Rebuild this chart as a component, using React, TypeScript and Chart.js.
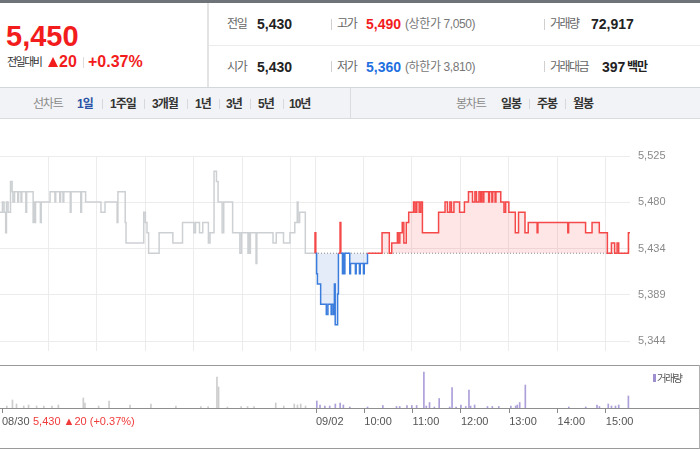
import React, { useEffect, useRef } from "react";
import { Chart, registerables } from "chart.js";

Chart.register(...registerables);

// ---------- data ----------
const SESSION = 390; // minutes 09:00-15:30
const BASE_PRICE = 5430; // previous close

// 08/30 session: [minute from 09:00, price]
const prevSession: [number, number][] = [
  [0, 5470], [3, 5480], [5, 5470], [7, 5450], [8, 5480], [10, 5470], [13, 5500], [15, 5490],
  [16, 5480], [18, 5490], [22, 5480], [23, 5490], [26, 5480], [27, 5490], [32, 5470], [33, 5490],
  [41, 5460], [42, 5480], [43, 5460], [44, 5480], [50, 5460], [51, 5480], [62, 5490], [68, 5480],
  [69, 5490], [74, 5480], [75, 5490], [78, 5480], [79, 5490], [87, 5470], [88, 5490], [100, 5470],
  [101, 5490], [106, 5480], [125, 5470], [130, 5480], [145, 5460], [146, 5490], [155, 5460], [156, 5440],
  [178, 5470], [180, 5460], [182, 5450], [184, 5430], [197, 5450], [214, 5440], [226, 5460], [240, 5450],
  [242, 5460], [247, 5450], [251, 5460], [258, 5440], [260, 5450], [265, 5510], [268, 5500], [270, 5480],
  [275, 5450], [277, 5480], [288, 5450], [297, 5430], [299, 5450], [307, 5430], [308, 5450], [309, 5430],
  [310, 5450], [317, 5420], [318, 5450], [338, 5440], [342, 5450], [351, 5440], [359, 5450], [365, 5460],
  [368, 5480], [369, 5460], [371, 5470], [378, 5430], [390, 5430],
];

// 09/02 session: [minute from 09:00, price]
const todaySession: [number, number][] = [
  [0, 5430], [0, 5450], [1, 5430], [2, 5410], [3, 5400], [7, 5380], [14, 5370], [16, 5380],
  [20, 5370], [21, 5380], [23, 5370], [24, 5400], [25, 5360], [28, 5390], [29, 5430], [31, 5460],
  [32, 5430], [34, 5410], [35, 5430], [36, 5410], [37, 5430], [43, 5410], [44, 5420], [50, 5410],
  [51, 5420], [55, 5410], [56, 5420], [60, 5410], [61, 5420], [65, 5430], [83, 5450], [92, 5430],
  [95, 5440], [102, 5450], [103, 5440], [105, 5450], [108, 5460], [110, 5440], [113, 5460], [116, 5470],
  [122, 5480], [124, 5470], [126, 5480], [129, 5470], [131, 5480], [133, 5450], [153, 5470], [161, 5480],
  [164, 5470], [167, 5480], [169, 5470], [172, 5480], [179, 5470], [185, 5480], [190, 5490], [195, 5480],
  [198, 5490], [200, 5480], [203, 5490], [205, 5480], [206, 5490], [208, 5480], [209, 5490], [215, 5480],
  [216, 5490], [219, 5480], [220, 5490], [223, 5480], [224, 5490], [230, 5480], [234, 5470], [236, 5480],
  [240, 5470], [248, 5450], [252, 5470], [260, 5450], [264, 5460], [275, 5450], [276, 5460], [313, 5450],
  [314, 5460], [335, 5450], [343, 5460], [352, 5450], [362, 5430], [367, 5440], [371, 5430], [374, 5440],
  [376, 5430], [388, 5450], [390, 5450],
];

// volumes (shares): [minute from 09:00, volume]
const prevVolumes: [number, number][] = [
  [6, 400], [13, 1600], [18, 800], [27, 400], [33, 600], [43, 400], [52, 400], [62, 400], [70, 600],
  [101, 2000], [103, 1000], [120, 400], [133, 1400], [159, 600], [185, 800], [216, 400], [247, 300],
  [256, 300], [267, 6200], [269, 4200], [280, 200], [297, 300], [305, 300], [313, 300], [340, 1000],
  [350, 400], [363, 800], [367, 600], [371, 800], [377, 400],
];
const todayVolumes: [number, number][] = [
  [1, 1400], [5, 600], [11, 400], [17, 400], [24, 800], [30, 1000], [34, 600], [42, 200], [64, 200],
  [83, 500], [100, 300], [104, 300], [113, 500], [119, 500], [125, 500], [134, 7200], [137, 400],
  [141, 1100], [147, 200], [153, 1900], [166, 200], [169, 4100], [174, 200], [180, 600], [186, 300],
  [190, 3600], [192, 400], [197, 600], [213, 300], [219, 300], [227, 300], [242, 400], [248, 400],
  [250, 600], [253, 1100], [260, 4600], [314, 200], [335, 200], [349, 600], [352, 300], [363, 800],
  [367, 400], [372, 400], [376, 600], [388, 2400],
];

const priceTickValues = [5344, 5389.25, 5434.5, 5479.75, 5525];
const priceTickLabels = ["5,344", "5,389", "5,434", "5,480", "5,525"];
const gridMinutes = [60, 120, 180, 240, 300, 360, 390, 450, 510, 570, 630, 690, 750];
const timeTickValues = [0, 390, 450, 510, 570, 630, 690, 750];
const timeTickLabels = ["08/30", "09/02", "10:00", "11:00", "12:00", "13:00", "14:00", "15:00"];

// ---------- style ----------
const FONT = '"Liberation Sans", Arial, "Noto Sans CJK KR", sans-serif';
const RED = "#f21c1c";
const LINE_RED = "#f54848";
const BLUE = "#1f6fe0";
const LINE_BLUE = "#3a7ddc";
const GRID = "#ececec";

type TP = {
  x: number;
  cy: number;
  size: number;
  color?: string;
  bold?: boolean;
  ls?: number;
  children: React.ReactNode;
};
function T({ x, cy, size, color = "#333", bold = false, ls = 0, children }: TP) {
  return (
    <span
      style={{
        position: "absolute",
        left: x,
        top: cy - 15,
        height: 30,
        lineHeight: "30px",
        fontSize: size,
        fontWeight: bold ? 700 : 400,
        color,
        letterSpacing: ls,
        fontFamily: FONT,
        whiteSpace: "nowrap",
      }}
    >
      {children}
    </span>
  );
}
function Box({ x, y, w, h, bg }: { x: number; y: number; w: number; h: number; bg: string }) {
  return <div style={{ position: "absolute", left: x, top: y, width: w, height: h, background: bg }} />;
}

export default function App() {
  const priceRef = useRef<HTMLCanvasElement>(null);
  const volRef = useRef<HTMLCanvasElement>(null);

  useEffect(() => {
    document.body.style.margin = "0";
    const prevPts = prevSession.map(([m, p]) => ({ x: m, y: p }));
    const todayPts = todaySession.map(([m, p]) => ({ x: SESSION + m, y: p }));

    const pc = new Chart(priceRef.current as HTMLCanvasElement, {
      type: "line",
      data: {
        datasets: [
          {
            data: todayPts,
            stepped: true,
            borderWidth: 1.5,
            pointRadius: 0,
            borderColor: LINE_RED,
            segment: {
              borderColor: (ctx: any) =>
                Math.min(ctx.p0.parsed.y, ctx.p1.parsed.y) < BASE_PRICE ? LINE_BLUE : LINE_RED,
            },
            fill: {
              target: { value: BASE_PRICE },
              above: "rgba(245,80,80,0.14)",
              below: "rgba(70,120,215,0.14)",
            },
          } as any,
          {
            data: prevPts,
            stepped: true,
            borderWidth: 1.5,
            pointRadius: 0,
            borderColor: "#cdd0d3",
            fill: false,
          },
          {
            data: [
              { x: SESSION, y: BASE_PRICE },
              { x: 2 * SESSION, y: BASE_PRICE },
            ],
            borderWidth: 1,
            borderDash: [1, 2],
            borderColor: "#8a8a8a",
            pointRadius: 0,
            fill: false,
          },
        ],
      },
      options: {
        animation: false,
        responsive: false,
        devicePixelRatio: 1,
        events: [],
        layout: { padding: { top: 36, left: 0, right: 0, bottom: 0 } },
        plugins: { legend: { display: false }, tooltip: { enabled: false } },
        scales: {
          x: {
            type: "linear",
            min: 0,
            max: 2 * SESSION,
            ticks: { display: false },
            grid: { color: GRID, drawTicks: false },
            border: { display: false },
            afterBuildTicks: (s: any) => {
              s.ticks = gridMinutes.map((v) => ({ value: v }));
            },
          },
          y: {
            position: "right",
            min: 5334,
            max: 5525,
            grid: { color: GRID, drawTicks: false },
            border: { display: false },
            afterBuildTicks: (s: any) => {
              s.ticks = priceTickValues.map((v) => ({ value: v }));
            },
            afterFit: (s: any) => {
              s.width = 70;
            },
            ticks: {
              padding: 8,
              color: "#8a8a8a",
              font: { size: 11, family: FONT },
              callback: (_v: any, i: number) => priceTickLabels[i],
            },
          },
        },
      } as any,
    });

    const vc = new Chart(volRef.current as HTMLCanvasElement, {
      type: "bar",
      data: {
        datasets: [
          {
            data: prevVolumes.map(([m, v]) => ({ x: m, y: v })),
            backgroundColor: "#cdcdcd",
            barThickness: 1,
            grouped: false,
          },
          {
            data: todayVolumes.map(([m, v]) => ({ x: SESSION + m, y: v })),
            backgroundColor: "#ad9fd9",
            barThickness: 1,
            grouped: false,
          },
        ],
      } as any,
      options: {
        animation: false,
        responsive: false,
        devicePixelRatio: 1,
        events: [],
        layout: { padding: { top: 0, left: 0, right: 70, bottom: 0 } },
        plugins: { legend: { display: false }, tooltip: { enabled: false } },
        scales: {
          x: {
            type: "linear",
            min: 0,
            max: 2 * SESSION,
            offset: false,
            grid: { drawOnChartArea: false, drawTicks: true, tickLength: 5, color: "#888", offset: false },
            border: { display: false },
            afterBuildTicks: (s: any) => {
              s.ticks = timeTickValues.map((v) => ({ value: v }));
            },
            afterFit: (s: any) => {
              s.height = 41;
            },
            ticks: {
              align: "start",
              padding: 2,
              maxRotation: 0,
              autoSkip: false,
              color: "#555",
              font: { size: 11, family: FONT },
              callback: (_v: any, i: number) => timeTickLabels[i],
            },
          },
          y: { display: false, min: 0, max: 8400 },
        },
      } as any,
    });

    return () => {
      pc.destroy();
      vc.destroy();
    };
  }, []);

  const tabSep = (x: number) => <Box key={"s" + x} x={x} y={99} w={1} h={10} bg="#d6d8dc" />;

  return (
    <div
      style={{
        position: "absolute",
        left: 0,
        top: 0,
        width: 700,
        height: 450,
        overflow: "hidden",
        background: "#fff",
        fontFamily: FONT,
      }}
    >
      {/* header frame */}
      <Box x={0} y={0} w={700} h={3} bg="#6e737a" />
      <Box x={207} y={3} w={2} h={84} bg="#e4e4e4" />
      <Box x={209} y={45} w={491} h={1} bg="#ececec" />
      <Box x={0} y={87} w={700} h={1} bg="#d3d6db" />
      <Box x={0} y={88} w={700} h={30} bg="#f2f3f6" />
      <Box x={0} y={118} w={700} h={1} bg="#d9dce1" />
      <Box x={350} y={88} w={1} h={30} bg="#d9dce1" />

      {/* left price box */}
      <T x={6} cy={36} size={29} bold color={RED}>5,450</T>
      <T x={7} cy={62} size={11} color="#333" ls={-1.5}>전일대비</T>
      <div
        style={{
          position: "absolute",
          left: 48,
          top: 57,
          width: 0,
          height: 0,
          borderLeft: "5px solid transparent",
          borderRight: "5px solid transparent",
          borderBottom: "10px solid " + RED,
        }}
      />
      <T x={59} cy={62} size={16} bold color={RED}>20</T>
      <Box x={83} y={57} w={1} h={11} bg="#dddddd" />
      <T x={88} cy={62} size={16} bold color={RED}>+0.37%</T>

      {/* right table */}
      <T x={227} cy={24} size={12} color="#666" ls={-1.2}>전일</T>
      <T x={257} cy={24} size={14} bold color="#222">5,430</T>
      <Box x={331} y={19} w={1} h={11} bg="#d0d0d0" />
      <T x={337} cy={24} size={12} color="#666" ls={-1.2}>고가</T>
      <T x={366} cy={24} size={14} bold color={RED}>5,490</T>
      <T x={405} cy={24} size={12} color="#777" ls={-0.4}>(상한가 7,050)</T>
      <Box x={544} y={19} w={1} h={11} bg="#d0d0d0" />
      <T x={550} cy={24} size={12} color="#666" ls={-1.5}>거래량</T>
      <T x={591} cy={24} size={14} bold color="#222">72,917</T>

      <T x={227} cy={66.5} size={12} color="#666" ls={-1.2}>시가</T>
      <T x={257} cy={66.5} size={14} bold color="#222">5,430</T>
      <Box x={331} y={61} w={1} h={11} bg="#d0d0d0" />
      <T x={337} cy={66.5} size={12} color="#666" ls={-1.2}>저가</T>
      <T x={366} cy={66.5} size={14} bold color={BLUE}>5,360</T>
      <T x={405} cy={66.5} size={12} color="#777" ls={-0.4}>(하한가 3,810)</T>
      <Box x={544} y={61} w={1} h={11} bg="#d0d0d0" />
      <T x={550} cy={66.5} size={12} color="#666" ls={-1.5}>거래대금</T>
      <T x={602} cy={66.5} size={14} bold color="#222">397</T>
      <T x={627} cy={66.5} size={12} bold color="#222" ls={-1}>백만</T>

      {/* tab bar */}
      <T x={33} cy={104} size={12} color="#8a8a8a" ls={-1.2}>선차트</T>
      <T x={77} cy={104} size={12} bold color="#2a52a6" ls={-1}>1일</T>
      {tabSep(102)}
      <T x={110} cy={104} size={12} bold color="#333" ls={-1}>1주일</T>
      {tabSep(144)}
      <T x={152} cy={104} size={12} bold color="#333" ls={-1}>3개월</T>
      {tabSep(187)}
      <T x={195} cy={104} size={12} bold color="#333" ls={-1}>1년</T>
      {tabSep(219)}
      <T x={226} cy={104} size={12} bold color="#333" ls={-1}>3년</T>
      {tabSep(250)}
      <T x={258} cy={104} size={12} bold color="#333" ls={-1}>5년</T>
      {tabSep(283)}
      <T x={289} cy={104} size={12} bold color="#333" ls={-1}>10년</T>
      <T x={456} cy={104} size={12} color="#8a8a8a" ls={-1.2}>봉차트</T>
      <T x={501} cy={104} size={12} bold color="#333" ls={-1}>일봉</T>
      {tabSep(529)}
      <T x={537} cy={104} size={12} bold color="#333" ls={-1}>주봉</T>
      {tabSep(565)}
      <T x={573} cy={104} size={12} bold color="#333" ls={-1}>월봉</T>

      {/* charts */}
      <canvas
        ref={priceRef}
        width={700}
        height={246}
        style={{ position: "absolute", left: 0, top: 120, width: 700, height: 246, display: "block" }}
      />
      <canvas
        ref={volRef}
        width={700}
        height={83}
        style={{ position: "absolute", left: 0, top: 366, width: 700, height: 83, display: "block" }}
      />
      <Box x={0} y={365} w={700} h={1} bg="#9a9a9a" />
      <Box x={0} y={408} w={700} h={1} bg="#8e8e8e" />
      <Box x={0} y={448} w={700} h={1} bg="#9a9a9a" />
      <Box x={699} y={365} w={1} h={84} bg="#b0b0b0" />

      {/* volume legend */}
      <Box x={653} y={374} w={3} h={8} bg="#9d8fd0" />
      <T x={657} cy={378} size={10.5} color="#555" ls={-1.5}>거래량</T>

      {/* previous day summary */}
      <T x={33} cy={421} size={11} color="#f03a3a">5,430 ▲20 (+0.37%)</T>
    </div>
  );
}
